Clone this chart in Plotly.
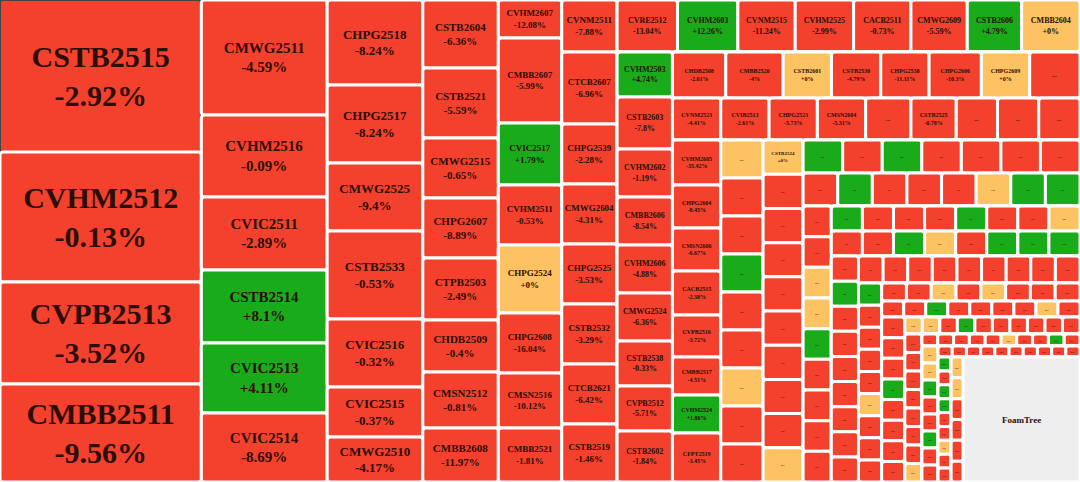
import plotly.graph_objects as go

RED, GREEN, ORANGE = "#f4412d", "#1aab1a", "#fdc261"
CMAP = {"r": RED, "g": GREEN, "o": ORANGE}

# left columns: width, then (label, change %, tile height)
col1_w = 200
col1 = [("CSTB2515", -2.92, 152), ("CVHM2512", -0.13, 130), ("CVPB2513", -3.52, 102), ("CMBB2511", -9.56, 98)]
col2_w = 125
col2 = [("CMWG2511", -4.59, 115), ("CVHM2516", -0.09, 82), ("CVIC2511", -2.89, 73), ("CSTB2514", 8.1, 73),
        ("CVIC2513", 4.11, 70), ("CVIC2514", -8.69, 69)]
col3_w = 95
col3 = [("CHPG2518", -8.24, 85), ("CHPG2517", -8.24, 78), ("CMWG2525", -9.4, 68), ("CSTB2533", -0.53, 88),
        ("CVIC2516", -0.32, 68), ("CVIC2515", -0.37, 50), ("CMWG2510", -4.17, 45)]
col4_w = 75
col4 = [("CSTB2604", -6.36, 68), ("CSTB2521", -5.59, 70), ("CMWG2515", -0.65, 60), ("CHPG2607", -8.89, 60),
        ("CTPB2503", -2.49, 62), ("CHDB2509", -0.4, 52), ("CMSN2512", -0.81, 56), ("CMBB2608", -11.97, 54)]
col5_w = 63
col5 = [("CVHM2607", -12.08, 38), ("CMBB2607", -5.99, 85), ("CVIC2517", 1.79, 62), ("CVHM2511", -0.53, 60),
        ("CHPG2524", 0, 68), ("CHPG2608", -16.04, 60), ("CMSN2516", -10.12, 55), ("CMBB2521", -1.81, 54)]
col6_w = 55
col6 = [("CVNM2511", -7.88, 52), ("CTCB2607", -6.96, 72), ("CHPG2539", -2.28, 60), ("CMWG2604", -4.31, 60),
        ("CHPG2525", -3.53, 60), ("CSTB2532", -3.29, 60), ("CTCB2621", -6.42, 60), ("CSTB2519", -1.46, 58)]

# right block: rows (height, then (label, change, tile width)) and columns
row1_h = 52
row1 = [("CVRE2512", -13.04, 60), ("CVHM2603", 12.26, 60), ("CVNM2515", -11.24, 57), ("CVHM2525", -2.99, 58),
        ("CACB2511", -0.73, 57), ("CMWG2609", -5.59, 56), ("CSTB2606", 4.79, 54), ("CMBB2604", 0, 58)]
colA_w = 55
colA = [("CVHM2503", 4.74, 45), ("CSTB2603", -7.8, 52), ("CVHM2602", -1.19, 48), ("CMBB2606", -8.54, 48),
        ("CVHM2606", -4.88, 48), ("CMWG2524", -6.36, 48), ("CSTB2538", -0.33, 45), ("CVPB2512", -5.71, 45),
        ("CSTB2602", -1.84, 51)]
row2_h = 46
row2 = [("CHDB2508", -2.61, 53), ("CMBB2520", -4, 57), ("CSTB2601", 0, 48), ("CSTB2530", -4.79, 49),
        ("CHPG2538", -11.11, 48), ("CHPG2606", -10.3, 52), ("CHPG2609", 0, 48), ("...", -1, 50)]
row3_h = 42
row3 = [("CVNM2523", -4.41, 48), ("CVIB2513", -2.61, 48), ("CHPG2523", -5.73, 48), ("CMSN2604", -5.31, 48),
        ("...", -1, 45), ("CSTB2525", -0.78, 45), ("...", -1, 41), ("...", -1, 41), ("...", -1, 41)]
colB_w = 48
colB = [("CVHM2605", -35.42, 45), ("CHPG2604", -8.45, 43), ("CMSN2606", -6.67, 43), ("CACB2515", -2.38, 44),
        ("CVPB2516", -3.72, 42), ("CMBB2517", -4.51, 38), ("CVHM2524", 1.86, 38), ("CFPT2519", -3.45, 49)]
colC_w = 42
colC = "orrgrrorr"
colD_w = 40
colD_first = ("CSTB2524", 0, 34)
colD = "rrrrrrrro"

# small-tile grid: (width, height) of the area, then levels of (rows, column)
grid_w, grid_h = 275, 342
grid_levels = [
    ([("grgrrrr", 33), ("rgrrrogg", 33)], ("rroogrrrr", 28)),
    ([("grrrgrro", 25), ("rrgorggg", 25)], ("rgrrrrrrr", 27)),
    ([("rrrrrrrrr", 27)], ("grrrrorrr", 23)),
    ([("rrororrr", 18), ("rrgrrrror", 16)], ("rrrgrrrr", 23)),
    ([("oorgrrrrrr", 17)], ("rrrrrrro", 17)),
    ([("rrrrrorrgr", 12)], ("oogrrgrr", 16)),
    ([("rrrrrrrrrr", 11)], ("grggrrorr", 13)),
    ([], ("oorrrr", 12)),
]

ids, labels, parents, values, colors, texts, sizes = [], [], [], [], [], [], []
cnt = [0]


def node(parent, value=0, label="", color="white", text="", size=6):
    cnt[0] += 1
    nid = "n%d" % cnt[0]
    ids.append(nid); labels.append(label); parents.append(parent); values.append(value)
    colors.append(color); texts.append(text); sizes.append(size)
    return nid


def chg_color(c):
    return GREEN if c > 0 else (ORANGE if c == 0 else RED)


def stock(parent, name, c, area, size):
    if name == "...":
        node(parent, area, name, chg_color(c), "...", 6)
    else:
        pct = ("+%g%%" % c) if c >= 0 else ("%g%%" % c)
        node(parent, area, name, chg_color(c), "%s<br>%s" % (name, pct), size)


def dots(parent, chars, area):
    for ch in chars:
        node(parent, area, "...", CMAP[ch], "...", 5)


root = node("", label="root")
for w, col, fs in [(col1_w, col1, 30), (col2_w, col2, 15), (col3_w, col3, 13),
                   (col4_w, col4, 11), (col5_w, col5, 9), (col6_w, col6, 9)]:
    p = node(root)
    for name, c, h in col:
        stock(p, name, c, w * h, fs)

R = node(root)
p = node(R)
for name, c, w in row1:
    stock(p, name, c, w * row1_h, 8)
L = node(R)
p = node(L)
for name, c, h in colA:
    stock(p, name, c, colA_w * h, 8)
Rest = node(L)
for row, rh in [(row2, row2_h), (row3, row3_h)]:
    p = node(Rest)
    for name, c, w in row:
        stock(p, name, c, w * rh, 6)
L2 = node(Rest)
p = node(L2)
for name, c, h in colB:
    stock(p, name, c, colB_w * h, 6)
p = node(L2)
dots(p, colC, colC_w * 38)
p = node(L2)
stock(p, colD_first[0], colD_first[1], colD_w * colD_first[2], 5)
dots(p, colD, colD_w * 34)

block = node(L2)
W, H = grid_w, grid_h
for rows, (ccol, cw) in grid_levels:
    for chars, rh in rows:
        p = node(block)
        dots(p, chars, W / len(chars) * rh)
        H -= rh
    sub = node(block)
    p = node(sub)
    dots(p, ccol, cw * H / len(ccol))
    W -= cw
    block = node(sub)
node(block, W * H, "FoamTree", "#eeeeee", "FoamTree", 9)

fig = go.Figure(go.Treemap(
    ids=ids, labels=labels, parents=parents, values=values,
    branchvalues="remainder", sort=False,
    texttemplate=texts, textposition="middle center",
    textfont=dict(family="Liberation Serif", size=sizes, color="#2b0d06", weight="bold"),
    marker=dict(colors=colors, line=dict(color="white", width=3), pad=dict(t=0, l=0, r=0, b=0),
                cornerradius=3),
    tiling=dict(packing="slice-dice", pad=0),
    pathbar=dict(visible=False),
    hoverinfo="skip",
))
fig.update_layout(width=1080, height=482, margin=dict(l=0, r=0, t=0, b=0),
                  paper_bgcolor="white", showlegend=False)
fig.write_html("out.html", config={"displayModeBar": False},
               post_script="document.body.style.margin='0';")
